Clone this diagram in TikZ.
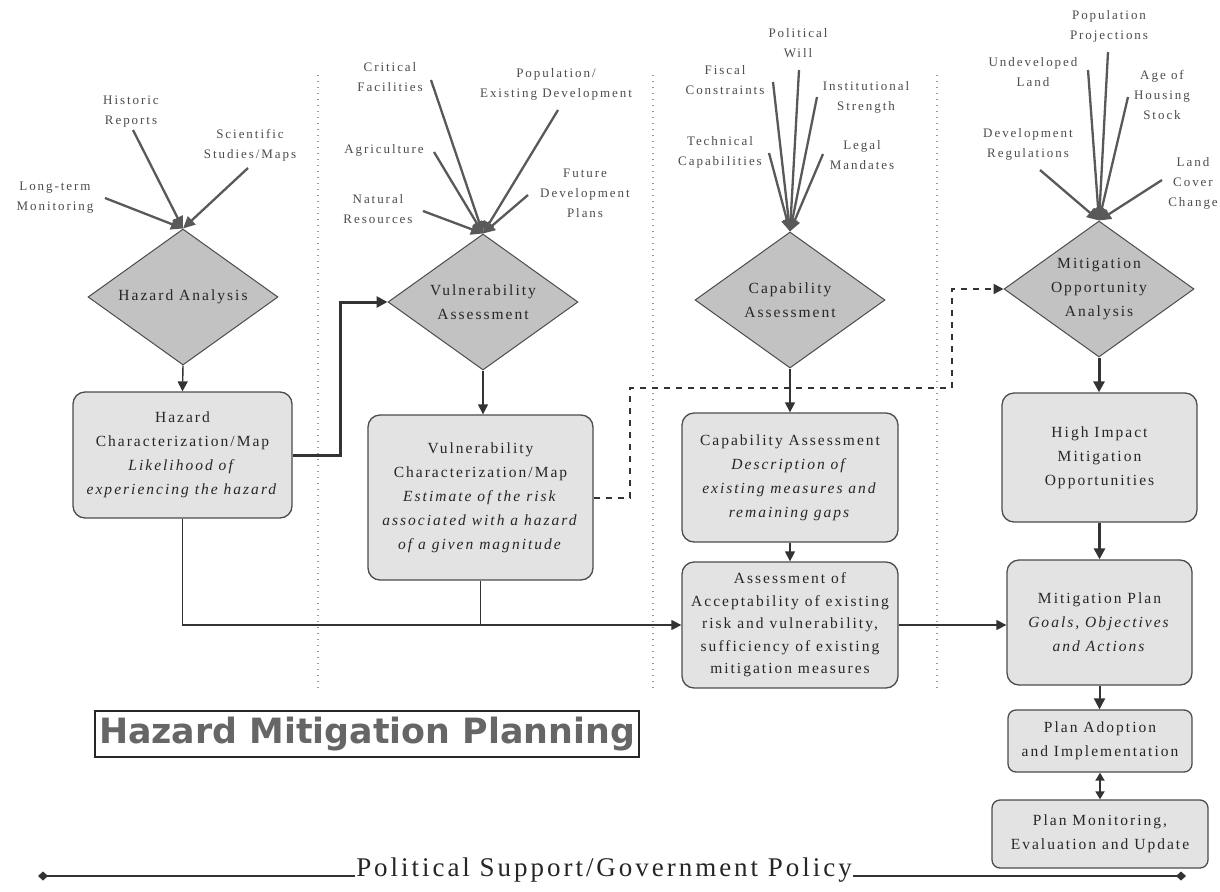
\documentclass[tikz,border=0pt]{standalone}
\usepackage{fontspec}
\setmainfont{Liberation Serif}
\newfontfamily\bxfont[LetterSpace=13]{Liberation Serif}
\newfontfamily\lbfont[LetterSpace=15]{Liberation Serif}
\newfontfamily\plfont[LetterSpace=11]{Liberation Serif}
\newfontfamily\ttlfont{DejaVu Sans}
\usetikzlibrary{shapes.geometric,arrows.meta}
\tikzset{
  boxfont/.style={font={\fontsize{15.5}{24}\bxfont}},
  lab/.style={font={\fontsize{13}{20}\lbfont}, align=center, text=black!70, inner sep=0pt},
  dia/.style={diamond, draw=black!70, fill=black!24, line width=1pt, minimum width=190, minimum height=136, inner sep=0pt, aspect=1.4, boxfont, align=center, text=black!85},
  box/.style={rounded corners=12pt, draw=black!70, fill=black!11, line width=1.3pt, align=center, boxfont, inner sep=2pt, text=black!85},
  sep/.style={draw=black!40, line width=1.3pt, dash pattern=on 1.3pt off 4.7pt},
  arr/.style={draw=black!80, line width=1.4pt, -{Triangle[length=10pt,width=10pt]}},
  marr/.style={draw=black!80, line width=2pt, -{Triangle[length=11pt,width=11pt]}},
  tarr/.style={draw=black!80, line width=3pt, -{Triangle[length=11pt,width=11pt]}},
  darr/.style={draw=black!80, line width=2pt, dash pattern=on 6pt off 6pt, -{Triangle[length=10pt,width=10pt]}},
  inarr/.style={draw=black!65, line width=2.3pt, -{Triangle[length=12pt,width=11pt]}},
  plain/.style={draw=black!80, line width=1.4pt},
}
\begin{document}
\begin{tikzpicture}[x=1pt,y=-1pt]
\useasboundingbox[fill=white] (0,0) rectangle (1220,891);
% separators
\draw[sep] (318,75) -- (318,690);
\draw[sep] (653,75) -- (653,690);
\draw[sep] (937,75) -- (937,690);

% diamonds
\node[dia] (ha) at (183,297) {Hazard Analysis};
\node[dia] (va) at (483,302) {Vulnerability\\Assessment};
\node[dia] (ca) at (790,300) {Capability\\Assessment};
\node[dia] (ma) at (1099,289) {Mitigation\\Opportunity\\Analysis};

% boxes
\node[box, minimum width=219, minimum height=126] (hc) at (182.5,455)
  {Hazard\\Characterization/Map\\\textit{Likelihood of}\\\textit{experiencing the hazard}};
\node[box, minimum width=225, minimum height=165] (vc) at (480.5,497.5)
  {Vulnerability\\Characterization/Map\\\textit{Estimate of the risk}\\\textit{associated with a hazard}\\\textit{of a given magnitude}};
\node[box, minimum width=216, minimum height=129] (cc) at (790,477.5)
  {Capability Assessment\\\textit{Description of}\\\textit{existing measures and}\\\textit{remaining gaps}};
\node[box, minimum width=216, minimum height=126, font={\fontsize{15.5}{22.5}\bxfont}] (acc) at (790,625)
  {Assessment of\\Acceptability of existing\\risk and vulnerability,\\sufficiency of existing\\mitigation measures};
\node[box, minimum width=195, minimum height=129] (hi) at (1099.5,457.5)
  {High Impact\\Mitigation\\Opportunities};
\node[box, minimum width=185, minimum height=125] (mp) at (1099.5,622.5)
  {Mitigation Plan\\\textit{Goals, Objectives}\\\textit{and Actions}};
\node[box, minimum width=184, minimum height=62, rounded corners=8pt] (pa) at (1100,741)
  {Plan Adoption\\and Implementation};
\node[box, minimum width=216, minimum height=68, rounded corners=8pt] (pm) at (1100,834)
  {Plan Monitoring,\\Evaluation and Update};

% main connectors
\draw[arr] (ha.south) -- (hc.north);
\coordinate (e1) at (340,455);
\draw[tarr] (hc.east) -- (e1) |- (va.west);
\draw[arr] (va.south) -- (va.south |- vc.north);
\coordinate (d1) at (630,388);
\coordinate (d2) at (952,388);
\draw[darr] (vc.east) -| (d1) -- (d2) |- (ma.west);
\draw[arr] (ca.south) -- (cc.north);
\draw[arr] (cc.south) -- (acc.north);
\draw[arr] (hc.south) |- (acc.west);
\draw[plain] (vc.south) -- (vc.south |- acc.west);
\draw[arr] (acc.east) -- (acc.east -| mp.west);
\draw[tarr] (ma.south) -- (ma.south |- hi.north);
\draw[tarr] (hi.south) -- (hi.south |- mp.north);
\draw[marr] (mp.south) -- (mp.south |- pa.north);
\draw[draw=black!80, line width=1.8pt, {Triangle[length=8pt,width=9pt]}-{Triangle[length=8pt,width=9pt]}] (pa.south) -- (pm.north);

% hazard inputs
\node[lab] (l1) at (131,112) {Historic\\Reports};
\node[lab] (l2) at (250,145) {Scientific\\Studies/Maps};
\node[lab] (l3) at (55,198) {Long-term\\Monitoring};
\coordinate (s1) at (133,130);
\coordinate (s2) at (248,168);
\coordinate (s3) at (105,198);
\draw[inarr] (s1) -- (ha.north);
\draw[inarr] (s2) -- (ha.north);
\draw[inarr] (s3) -- (ha.north);

% vulnerability inputs
\node[lab] (v1) at (390,77) {Critical\\Facilities};
\node[lab] (v2) at (556,84) {Population/\\Existing Development};
\node[lab] (v3) at (384,150) {Agriculture};
\node[lab] (v4) at (378,209) {Natural\\Resources};
\node[lab] (v5) at (585,193) {Future\\Development\\Plans};
\coordinate (t1) at (431,80);
\coordinate (t2) at (558,110);
\coordinate (t3) at (434,152);
\coordinate (t4) at (423,211);
\coordinate (t5) at (528,195);
\draw[inarr] (t1) -- (va.north);
\draw[inarr] (t2) -- (va.north);
\draw[inarr] (t3) -- (va.north);
\draw[inarr] (t4) -- (va.north);
\draw[inarr] (t5) -- (va.north);

% capability inputs
\node[lab] (c1) at (798,43) {Political\\Will};
\node[lab] (c2) at (725,80) {Fiscal\\Constraints};
\node[lab] (c3) at (866,97) {Institutional\\Strength};
\node[lab] (c4) at (720,152) {Technical\\Capabilities};
\node[lab] (c5) at (862,155) {Legal\\Mandates};
\coordinate (u1) at (799,70);
\coordinate (u2) at (773,82);
\coordinate (u3) at (817,97);
\coordinate (u4) at (769,153);
\coordinate (u5) at (823,154);
\draw[inarr] (u1) -- (ca.north);
\draw[inarr] (u2) -- (ca.north);
\draw[inarr] (u3) -- (ca.north);
\draw[inarr] (u4) -- (ca.north);
\draw[inarr] (u5) -- (ca.north);

% mitigation inputs
\node[lab] (m1) at (1109,26) {Population\\Projections};
\node[lab] (m2) at (1033,72) {Undeveloped\\Land};
\node[lab] (m3) at (1162,95) {Age of\\Housing\\Stock};
\node[lab] (m4) at (1028,144) {Development\\Regulations};
\node[lab] (m5) at (1193,183) {Land\\Cover\\Change};
\coordinate (w1) at (1108,52);
\coordinate (w2) at (1088,70);
\coordinate (w3) at (1128,97);
\coordinate (w4) at (1040,170);
\coordinate (w5) at (1162,180);
\draw[inarr] (w1) -- (ma.north);
\draw[inarr] (w2) -- (ma.north);
\draw[inarr] (w3) -- (ma.north);
\draw[inarr] (w4) -- (ma.north);
\draw[inarr] (w5) -- (ma.north);

% title
\node[draw=black!85, line width=1.6pt, fill=white, minimum width=544, minimum height=46, inner sep=0pt] (ttl) at (367,734)
  {\resizebox{536pt}{!}{\fontsize{30}{30}\ttlfont\bfseries\color{black!60}Hazard Mitigation Planning}};

% policy line
\coordinate (pl) at (38,876);
\coordinate (pr) at (1186,876);
\draw[draw=black!80, line width=1.8pt, {Diamond[length=10pt,width=9pt]}-{Diamond[length=10pt,width=9pt]}] (pl) -- (pr);
\node[fill=white, anchor=base, inner xsep=1pt, inner ysep=2pt, font={\fontsize{27}{27}\plfont}, text=black!85] (pol) at (604,876) {Political Support/Government Policy};
\end{tikzpicture}
\end{document}
